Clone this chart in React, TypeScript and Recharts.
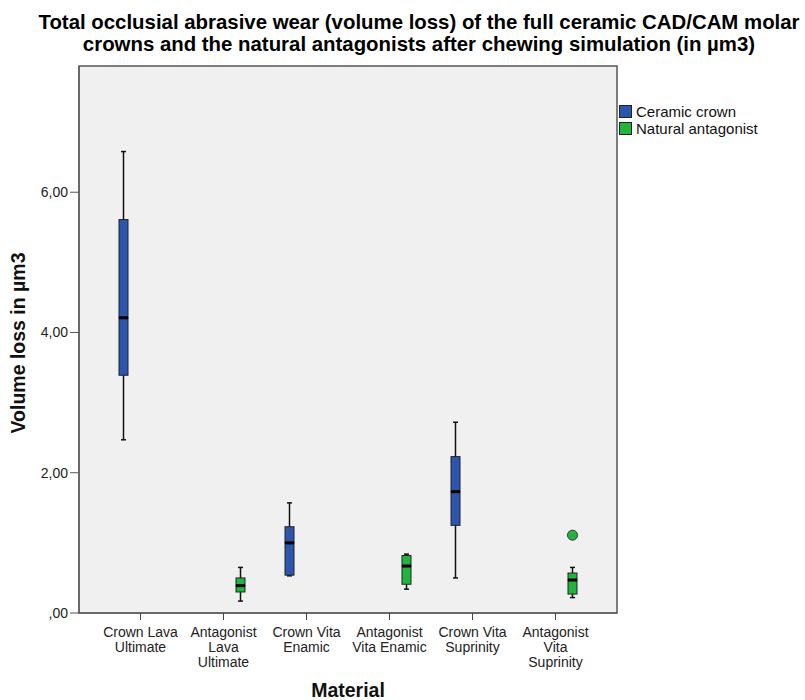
import React from "react";
import { ComposedChart, Bar, XAxis, YAxis, CartesianGrid, ReferenceArea } from "recharts";

const categories = [
  "Crown Lava Ultimate",
  "Antagonist Lava Ultimate",
  "Crown Vita Enamic",
  "Antagonist Vita Enamic",
  "Crown Vita Suprinity",
  "Antagonist Vita Suprinity",
];
const tickLines = [
  ["Crown Lava", "Ultimate"],
  ["Antagonist", "Lava", "Ultimate"],
  ["Crown Vita", "Enamic"],
  ["Antagonist", "Vita Enamic"],
  ["Crown Vita", "Suprinity"],
  ["Antagonist", "Vita", "Suprinity"],
];

// [min, q1, median, q3, max]
const crownBoxes = [
  [2.47, 3.39, 4.21, 5.61, 6.58],
  null,
  [0.53, 0.54, 1.0, 1.23, 1.57],
  null,
  [0.5, 1.25, 1.73, 2.23, 2.72],
  null,
];
const antagonistBoxes = [
  null,
  [0.17, 0.3, 0.39, 0.5, 0.65],
  null,
  [0.34, 0.41, 0.67, 0.82, 0.84],
  null,
  [0.22, 0.27, 0.47, 0.57, 0.65],
];
const antagonistOutliers = [null, null, null, null, null, 1.11];

const yTicks = [0, 2, 4, 6];
const seriesNames = ["Ceramic crown", "Natural antagonist"];
const BLUE = "#2c56ad";
const GREEN = "#22b53e";
const FONT = '"Liberation Sans", Arial, sans-serif';

function boxParts(prefix: string, box: number[] | null, outlier: number | null) {
  if (!box) {
    return {
      [prefix + "_base"]: null, [prefix + "_lw"]: null, [prefix + "_lb"]: null,
      [prefix + "_ub"]: null, [prefix + "_uw"]: null, [prefix + "_out"]: null,
    };
  }
  const [mn, q1, md, q3, mx] = box;
  return {
    [prefix + "_base"]: mn,
    [prefix + "_lw"]: q1 - mn,
    [prefix + "_lb"]: md - q1,
    [prefix + "_ub"]: q3 - md,
    [prefix + "_uw"]: mx - q3,
    [prefix + "_out"]: outlier != null ? outlier - mx : null,
  };
}

const rows = categories.map((cat, i) => ({
  cat,
  ...boxParts("c", crownBoxes[i], null),
  ...boxParts("a", antagonistBoxes[i], antagonistOutliers[i]),
}));

const empty = () => <g />;

const whisker = (key: string, capTop: boolean) => (p: any) => {
  const { x, y, width, height, payload } = p;
  if (!payload || payload[key] == null) return <g />;
  const cx = x + width / 2;
  const cy = capTop ? y : y + height;
  return (
    <g>
      <line x1={cx} x2={cx} y1={y} y2={y + height} stroke="#111" strokeWidth={1.5} />
      <line x1={cx - 2.5} x2={cx + 2.5} y1={cy} y2={cy} stroke="#111" strokeWidth={1.5} />
    </g>
  );
};

const boxHalf = (key: string, color: string, median: boolean) => (p: any) => {
  const { x, y, width, height, payload } = p;
  if (!payload || payload[key] == null) return <g />;
  return (
    <g>
      <rect x={x} y={y} width={width} height={height} fill={color} stroke="#222" strokeWidth={1} />
      {median && <line x1={x} x2={x + width} y1={y + height} y2={y + height} stroke="#000" strokeWidth={3} />}
    </g>
  );
};

const outlierDot = (key: string, color: string) => (p: any) => {
  const { x, y, width, payload } = p;
  if (!payload || payload[key] == null) return <g />;
  return <circle cx={x + width / 2} cy={y} r={5} fill={color} stroke="#333" strokeWidth={1} />;
};

const XTick = (props: any) => {
  const { x, y, index } = props;
  const lines = tickLines[index] || [];
  return (
    <text x={x} y={y} textAnchor="middle" fill="#222" fontSize={14} fontFamily={FONT}>
      {lines.map((l, i) => (
        <tspan key={i} x={x} y={y + 15 + i * 15}>{l}</tspan>
      ))}
    </text>
  );
};

const fmt = (v: number) => (v === 0 ? ",00" : v.toFixed(2).replace(".", ","));

function series(prefix: string, color: string) {
  return [
    <Bar key={prefix + "b"} dataKey={prefix + "_base"} stackId={prefix} shape={empty} isAnimationActive={false} />,
    <Bar key={prefix + "lw"} dataKey={prefix + "_lw"} stackId={prefix} shape={whisker(prefix + "_lw", false)} isAnimationActive={false} />,
    <Bar key={prefix + "lb"} dataKey={prefix + "_lb"} stackId={prefix} shape={boxHalf(prefix + "_lb", color, false)} isAnimationActive={false} />,
    <Bar key={prefix + "ub"} dataKey={prefix + "_ub"} stackId={prefix} shape={boxHalf(prefix + "_ub", color, true)} isAnimationActive={false} />,
    <Bar key={prefix + "uw"} dataKey={prefix + "_uw"} stackId={prefix} shape={whisker(prefix + "_uw", true)} isAnimationActive={false} />,
    <Bar key={prefix + "o"} dataKey={prefix + "_out"} stackId={prefix} shape={outlierDot(prefix + "_out", color)} isAnimationActive={false} />,
  ];
}

export default function App() {
  const colors = [BLUE, GREEN];
  return (
    <div style={{ position: "absolute", left: 0, top: 0, width: 805, height: 700, background: "#fff" }}>
      <div
        style={{
          position: "absolute", left: 36, top: 11, width: 766, textAlign: "center",
          fontFamily: FONT, fontWeight: "bold", fontSize: 20.4, lineHeight: "22px", color: "#000", whiteSpace: "nowrap",
        }}
      >
        Total occlusial abrasive wear (volume loss) of the full ceramic CAD/CAM molar
        <br />
        crowns and the natural antagonists after chewing simulation (in µm3)
      </div>
      <ComposedChart
        width={805}
        height={700}
        data={rows}
        margin={{ top: 66, right: 188, bottom: 27, left: 8 }}
        barSize={9}
        barGap={25}
      >
        <CartesianGrid fill="#f0f0f0" horizontal={false} vertical={false} />
        <XAxis
          dataKey="cat"
          height={60}
          padding={{ left: 20, right: 20 }}
          stroke="#555"
          tickSize={7}
          tickLine={{ stroke: "#444" }}
          tick={<XTick />}
          interval={0}
          label={{
            content: (p: any) => {
              const vb = p.viewBox;
              return (
                <text x={vb.x + vb.width / 2} y={vb.y + vb.height + 24} textAnchor="middle" fontFamily={FONT} fontWeight="bold" fontSize={19.5} fill="#111">
                  Material
                </text>
              );
            },
          }}
        />
        <XAxis xAxisId="frame" dataKey="cat" hide />
        <YAxis
          type="number"
          domain={[0, 7.8]}
          ticks={yTicks}
          tickFormatter={fmt}
          width={71}
          stroke="#555"
          tickSize={9}
          tickMargin={2}
          tick={{ fill: "#222", fontSize: 14, fontFamily: FONT }}
          label={{
            content: () => (
              <text transform="translate(25,343) rotate(-90)" textAnchor="middle" fontFamily={FONT} fontWeight="bold" fontSize={19.5} fill="#111">
                Volume loss in µm3
              </text>
            ),
          }}
        />
        <ReferenceArea xAxisId="frame" y1={0} y2={7.8} fill="none" fillOpacity={0} stroke="#555" strokeWidth={1.5} />
        {series("c", BLUE)}
        {series("a", GREEN)}
      </ComposedChart>
      <div style={{ position: "absolute", left: 619, top: 103, fontFamily: FONT, fontSize: 15, color: "#111" }}>
        {seriesNames.map((n, i) => (
          <div key={n} style={{ display: "flex", alignItems: "center", height: 17 }}>
            <span style={{ width: 13, height: 13, background: colors[i], border: "1px solid #222", boxSizing: "border-box", marginRight: 4 }} />
            {n}
          </div>
        ))}
      </div>
    </div>
  );
}
